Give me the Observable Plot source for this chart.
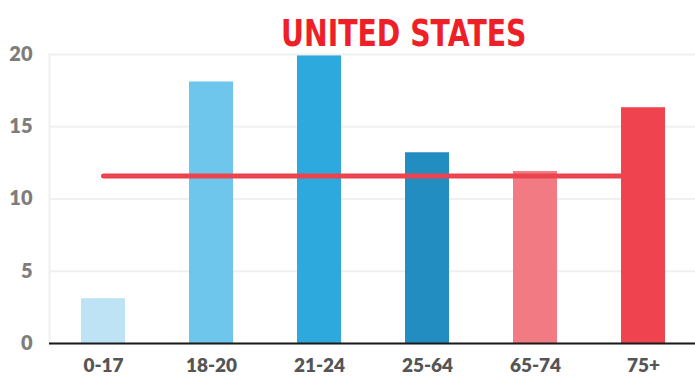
<!DOCTYPE html>
<html>
<head>
<meta charset="utf-8">
<script src="https://cdn.jsdelivr.net/npm/d3@7"></script>
<script src="https://cdn.jsdelivr.net/npm/@observablehq/plot@0.6"></script>
<style>
  html, body { margin: 0; padding: 0; background: #fff; }
  #wrap { position: relative; width: 695px; height: 379px; }
  #title { position: absolute; left: 281px; top: 14px; font-family: "DejaVu Sans", sans-serif; font-weight: bold; font-size: 38px; color: #ee1f27; white-space: nowrap; line-height: 1; transform: scaleX(0.745); transform-origin: 0 0; }
  svg text { font-weight: 800; }
</style>
</head>
<body>
<div id="wrap"><div id="title">UNITED STATES</div></div>
<script>
const categories = ["0-17", "18-20", "21-24", "25-64", "65-74", "75+"];
const values = [3.1, 18.1, 19.9, 13.2, 11.9, 16.3];
const colors = ["#bee3f5", "#6fc6ec", "#2ea9de", "#228dc1", "#f27a82", "#ef4350"];
const average = 11.6;
const yTicks = [0, 5, 10, 15, 20];

const data = categories.map((c, i) => ({category: c, value: values[i]}));
const avgLine = [{category: categories[0], value: average}, {category: categories[categories.length - 1], value: average}];
const lastBar = data.slice(-1);

const chart = Plot.plot({
  width: 695,
  height: 379,
  marginLeft: 49,
  marginRight: 0,
  marginTop: 54,
  marginBottom: 36,
  style: {fontFamily: "Lato, sans-serif", background: "#fff"},
  x: {domain: categories, range: [49, 697], paddingInner: 0.59, paddingOuter: 0.295, label: null},
  y: {domain: [0, 20], label: null},
  color: {domain: categories, range: colors},
  marks: [
    Plot.gridY(yTicks, {stroke: "#f0f0f0", strokeOpacity: 1, strokeWidth: 2}),
    Plot.frame({anchor: "left", stroke: "#f0f0f0", strokeWidth: 2}),
    Plot.barY(data, {x: "category", y: "value", fill: "category"}),
    Plot.lineY(avgLine, {x: "category", y: "value", stroke: "#e9444f", strokeWidth: 5, strokeLinecap: "round"}),
    Plot.barY(lastBar, {x: "category", y: "value", fill: "category"}),
    Plot.ruleY([0], {stroke: "#1a1a1a", strokeWidth: 2}),
    Plot.axisY(yTicks, {tickSize: 0, tickPadding: 17, fontSize: 20, fontWeight: "bold", fill: "#7d7d7d", label: null}),
    Plot.axisX({tickSize: 0, tickPadding: 15, fontSize: 19, fontWeight: "bold", fill: "#555555", label: null})
  ]
});
chart.style.position = "absolute";
chart.style.left = "0";
chart.style.top = "0";
const wrap = document.getElementById("wrap");
wrap.insertBefore(chart, wrap.firstChild);
</script>
</body>
</html>
